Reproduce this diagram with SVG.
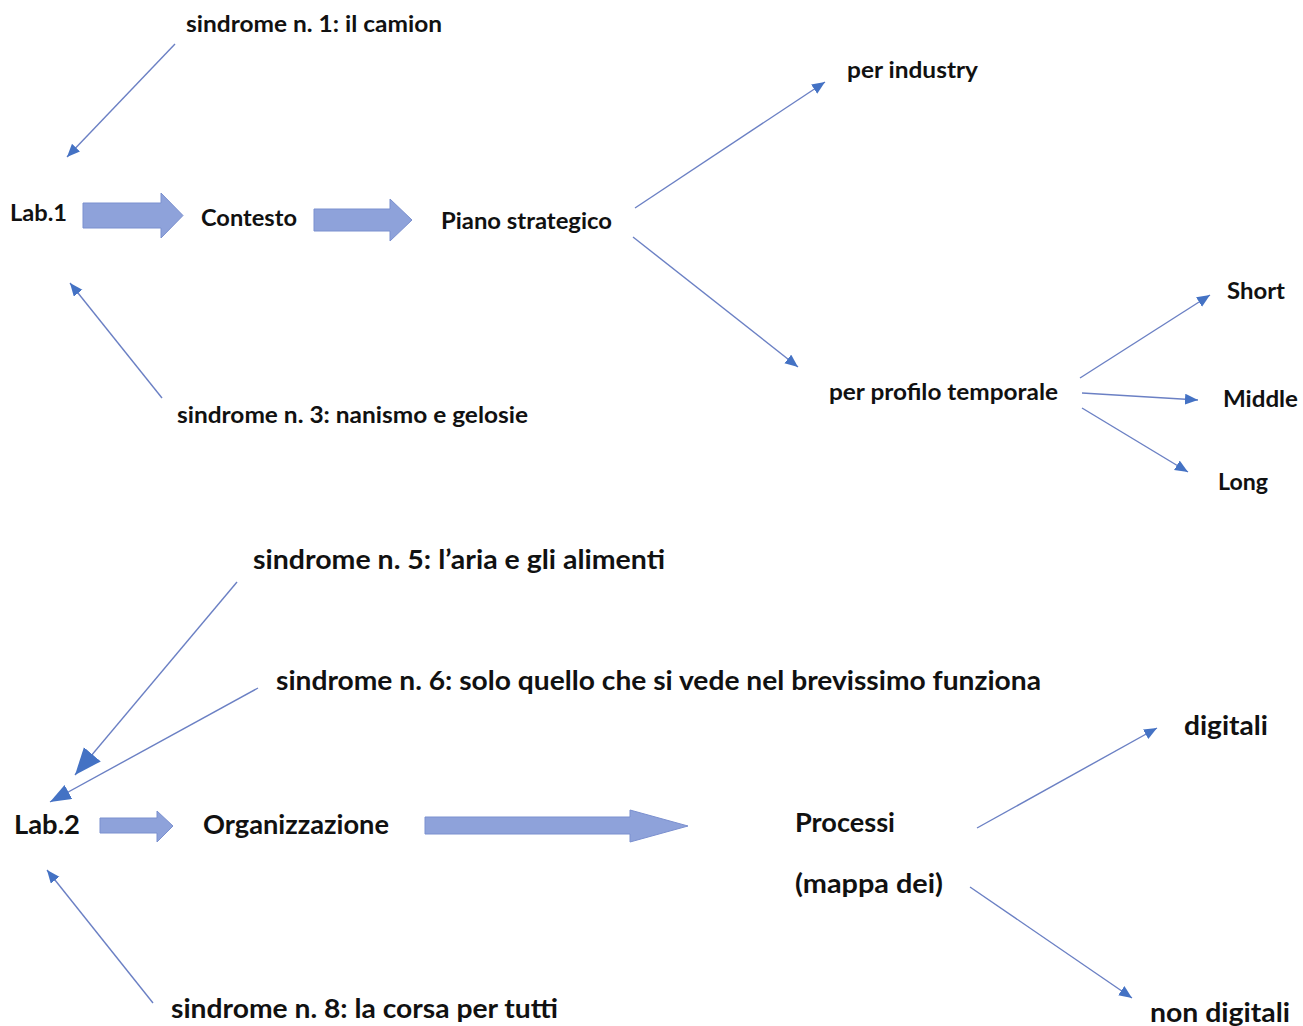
<svg xmlns="http://www.w3.org/2000/svg" width="1303" height="1026" viewBox="0 0 1303 1026">
<defs>
<style>
.t{font-family:Lato,"Open Sans","Liberation Sans",sans-serif;font-weight:bold;fill:#111}
.s{font-size:23px}
.b{font-size:26px}
.c{stroke:#6b80c4;stroke-width:1.4;fill:none}
.blk{fill:#8ea2da;stroke:#7b90cf;stroke-width:1}
</style>
<marker id="ah" markerUnits="userSpaceOnUse" markerWidth="14" markerHeight="12" refX="13" refY="5.5" orient="auto">
<path d="M0,0 L13,5.5 L0,11 Z" fill="#4472c4"/>
</marker>
<marker id="ahL" markerUnits="userSpaceOnUse" markerWidth="28" markerHeight="24" refX="27" refY="11" orient="auto">
<path d="M0,0 L27,11 L0,22 Z" fill="#4472c4"/>
</marker>
<marker id="ahM" markerUnits="userSpaceOnUse" markerWidth="22" markerHeight="18" refX="21" refY="8" orient="auto">
<path d="M0,0 L21,8 L0,16 Z" fill="#4472c4"/>
</marker>
</defs>
<rect width="1303" height="1026" fill="#fff"/>
<g id="connectors">
<line class="c" x1="175" y1="44" x2="67" y2="157" marker-end="url(#ah)"/>
<line class="c" x1="162" y1="398" x2="70" y2="283" marker-end="url(#ah)"/>
<line class="c" x1="635" y1="208" x2="825" y2="82" marker-end="url(#ah)"/>
<line class="c" x1="633" y1="237" x2="798" y2="367" marker-end="url(#ah)"/>
<line class="c" x1="1080" y1="378" x2="1210" y2="295" marker-end="url(#ah)"/>
<line class="c" x1="1082" y1="393" x2="1198" y2="400" marker-end="url(#ah)"/>
<line class="c" x1="1082" y1="408" x2="1188" y2="472" marker-end="url(#ah)"/>
<line class="c" x1="237" y1="582" x2="75" y2="775" marker-end="url(#ahL)"/>
<line class="c" x1="258" y1="688" x2="50" y2="802" marker-end="url(#ahM)"/>
<line class="c" x1="153" y1="1003" x2="47" y2="870" marker-end="url(#ah)"/>
<line class="c" x1="977" y1="828" x2="1157" y2="728" marker-end="url(#ah)"/>
<line class="c" x1="970" y1="887" x2="1132" y2="998" marker-end="url(#ah)"/>
<path class="blk" d="M83,203 H161 V193 L183,215.5 L161,238 V228 H83 Z"/>
<path class="blk" d="M314,209 H390 V199 L412,220 L390,241 V231 H314 Z"/>
<path class="blk" d="M100,818 H157 V811 L173,826 L157,842 V833 H100 Z"/>
<path class="blk" d="M425,817 H630 V810 L688,826 L630,842 V834 H425 Z"/>
</g>
<g id="s1"><text class="t s" x="186" y="32" textLength="256" lengthAdjust="spacingAndGlyphs">sindrome n. 1: il camion</text></g>
<g id="lab1"><text class="t s" x="10" y="221" textLength="57" lengthAdjust="spacingAndGlyphs">Lab.1</text></g>
<g id="contesto"><text class="t s" x="201" y="226" textLength="96" lengthAdjust="spacingAndGlyphs">Contesto</text></g>
<g id="piano"><text class="t s" x="441" y="229" textLength="171" lengthAdjust="spacingAndGlyphs">Piano strategico</text></g>
<g id="industry"><text class="t s" x="847" y="78" textLength="131" lengthAdjust="spacingAndGlyphs">per industry</text></g>
<g id="profilo"><text class="t s" x="829" y="400" textLength="229" lengthAdjust="spacingAndGlyphs">per profilo temporale</text></g>
<g id="short"><text class="t s" x="1227" y="299" textLength="58" lengthAdjust="spacingAndGlyphs">Short</text></g>
<g id="middle"><text class="t s" x="1223" y="407" textLength="75" lengthAdjust="spacingAndGlyphs">Middle</text></g>
<g id="long"><text class="t s" x="1218" y="490" textLength="50" lengthAdjust="spacingAndGlyphs">Long</text></g>
<g id="s3"><text class="t s" x="177" y="423" textLength="351" lengthAdjust="spacingAndGlyphs">sindrome n. 3: nanismo e gelosie</text></g>
<g id="s5"><text class="t b" x="253" y="569" textLength="412" lengthAdjust="spacingAndGlyphs">sindrome n. 5: l’aria e gli alimenti</text></g>
<g id="s6"><text class="t b" x="276" y="690" textLength="765" lengthAdjust="spacingAndGlyphs">sindrome n. 6: solo quello che si vede nel brevissimo funziona</text></g>
<g id="lab2"><text class="t b" x="14" y="834" textLength="66" lengthAdjust="spacingAndGlyphs">Lab.2</text></g>
<g id="organizzazione"><text class="t b" x="203" y="834" textLength="186" lengthAdjust="spacingAndGlyphs">Organizzazione</text></g>
<g id="processi"><text class="t b" x="795" y="832" textLength="100" lengthAdjust="spacingAndGlyphs">Processi</text><text class="t b" x="795" y="893" textLength="148" lengthAdjust="spacingAndGlyphs">(mappa dei)</text></g>
<g id="digitali"><text class="t b" x="1184" y="735" textLength="84" lengthAdjust="spacingAndGlyphs">digitali</text></g>
<g id="nondigitali"><text class="t b" x="1150" y="1022" textLength="140" lengthAdjust="spacingAndGlyphs">non digitali</text></g>
<g id="s8"><text class="t b" x="171" y="1018" textLength="387" lengthAdjust="spacingAndGlyphs">sindrome n. 8: la corsa per tutti</text></g>
</svg>
